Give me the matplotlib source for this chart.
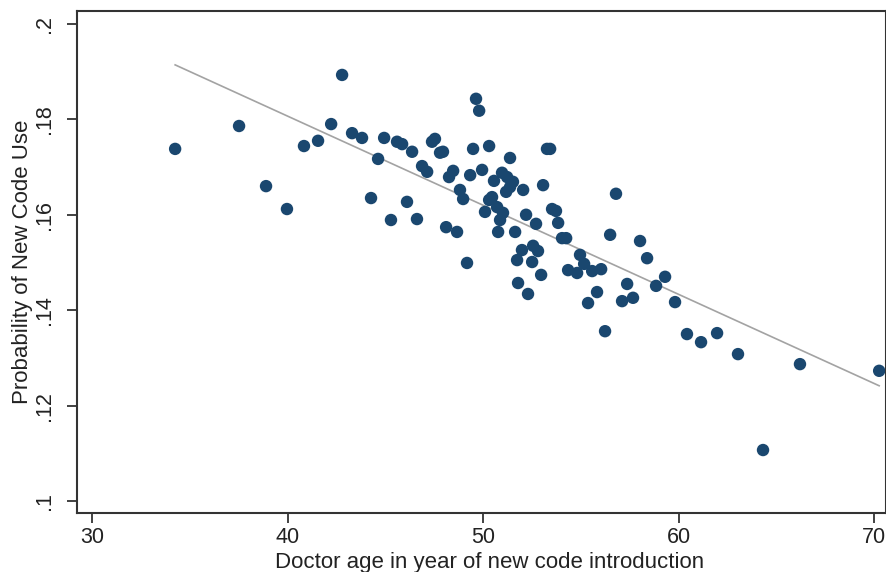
import matplotlib.pyplot as plt
import numpy as np

plt.rcParams['font.family'] = ['Liberation Sans', 'DejaVu Sans']

# doctor age (x) and probability of new code use (y)
age = [34.25, 37.52, 38.90, 39.97, 40.84, 41.56, 42.23, 42.79, 43.30, 43.81,
       44.27, 44.63, 44.94, 45.29, 45.60, 45.86, 46.11, 46.37, 46.62, 46.88,
       47.14, 47.39, 47.54, 47.80, 47.95, 48.11, 48.26, 48.47, 48.67, 48.82,
       48.98, 49.18, 49.34, 49.49, 49.64, 49.80, 49.95, 50.10, 50.31, 50.31,
       50.46, 50.56, 50.72, 50.77, 50.87, 50.97, 51.02, 51.23, 51.18, 51.38,
       51.38, 51.53, 51.64, 51.74, 51.79, 51.99, 52.05, 52.20, 52.30, 52.51,
       52.56, 52.81, 52.71, 52.97, 53.07, 53.27, 53.43, 53.53, 53.73, 53.84,
       54.04, 54.25, 54.35, 54.81, 54.96, 55.17, 55.37, 55.58, 56.04, 55.83,
       56.24, 56.50, 56.80, 57.11, 57.37, 57.67, 58.03, 58.39, 58.85, 59.31,
       59.82, 60.43, 61.15, 61.97, 63.04, 64.32, 66.21, 70.26]
prob = [.1738, .1786, .1660, .1612, .1744, .1755, .1790, .1893, .1771, .1761,
        .1635, .1717, .1761, .1589, .1753, .1748, .1627, .1732, .1591, .1702,
        .1690, .1753, .1759, .1730, .1732, .1574, .1679, .1692, .1564, .1652,
        .1633, .1499, .1683, .1738, .1843, .1818, .1694, .1606, .1744, .1631,
        .1637, .1671, .1616, .1564, .1589, .1688, .1604, .1679, .1648, .1658,
        .1719, .1669, .1564, .1505, .1457, .1526, .1652, .1600, .1434, .1501,
        .1535, .1524, .1581, .1474, .1662, .1738, .1738, .1612, .1608, .1583,
        .1551, .1551, .1484, .1478, .1516, .1497, .1415, .1482, .1486, .1438,
        .1356, .1558, .1644, .1419, .1455, .1426, .1545, .1509, .1451, .1470,
        .1417, .1350, .1333, .1352, .1308, .1107, .1287, .1273]

xticks = [30, 40, 50, 60, 70]
yticks = [.1, .12, .14, .16, .18, .2]
ytick_labels = ['.1', '.12', '.14', '.16', '.18', '.2']

fig = plt.figure(figsize=(8.86, 5.72), dpi=100)
ax = fig.add_axes([0.0869, 0.1031, 0.9131, 0.8777])

x = np.array(age)
y = np.array(prob)
slope, icpt = np.polyfit(x, y, 1)
xs = np.array([x.min(), x.max()])
ax.plot(xs, icpt + slope * xs, color='#a3a3a3', lw=1.2, zorder=1)
ax.scatter(x, y, s=80, color='#1a476f', edgecolors='none', zorder=2)

ax.set_xlim(29.23, 70.61)
ax.set_ylim(0.0975, 0.2027)
ax.set_xticks(xticks)
ax.set_yticks(yticks)
ax.set_yticklabels(ytick_labels, rotation=90, va='center')
ax.tick_params(axis='both', direction='out', length=7, width=1.3,
               labelsize=15.5, color='#333333', labelcolor='#222222')
ax.tick_params(axis='x', pad=3)
ax.tick_params(axis='y', pad=9)
for s in ax.spines.values():
    s.set_linewidth(1.5)
    s.set_color('#333333')

ax.set_xlabel('Doctor age in year of new code introduction', fontsize=16,
              color='#222222')
ax.set_ylabel('Probability of New Code Use', fontsize=16, color='#222222')
ax.xaxis.set_label_coords(0.5105, -0.077)
ax.yaxis.set_label_coords(-0.054, 0.5)

fig.savefig('out.png', dpi=100)
